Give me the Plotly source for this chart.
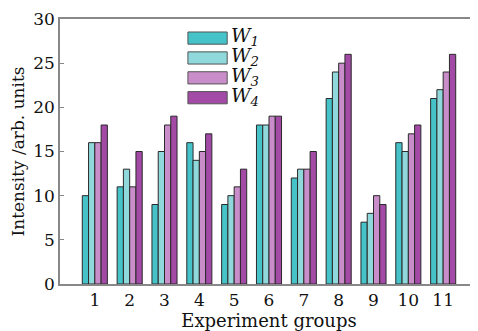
import plotly.graph_objects as go

groups = [1, 2, 3, 4, 5, 6, 7, 8, 9, 10, 11]
w1 = [10, 11, 9, 16, 9, 18, 12, 21, 7, 16, 21]
w2 = [16, 13, 15, 14, 10, 18, 13, 24, 8, 15, 22]
w3 = [16, 11, 18, 15, 11, 19, 13, 25, 10, 17, 24]
w4 = [18, 15, 19, 17, 13, 19, 15, 26, 9, 18, 26]
series_names = ["W<sub>1</sub>", "W<sub>2</sub>", "W<sub>3</sub>", "W<sub>4</sub>"]
colors = ["#45c3c8", "#8fd8db", "#c98dc9", "#a24aa6"]
y_ticks = [0, 5, 10, 15, 20, 25, 30]

FONT = "DejaVu Serif"
fig = go.Figure()
for name, vals, col in zip(series_names, [w1, w2, w3, w4], colors):
    fig.add_trace(go.Bar(x=groups, y=vals, name=name,
                         marker=dict(color=col, line=dict(color="#2a2a2a", width=1)),
                         showlegend=False))

# custom legend (wide swatches like the original)
leg_x0, leg_x1 = 0.306, 0.40
leg_top = 0.928
step = 0.075
shapes = []
annotations = []
for i, (name, col) in enumerate(zip(series_names, colors)):
    yc = leg_top - i * step
    shapes.append(dict(type="rect", xref="paper", yref="paper", x0=leg_x0, x1=leg_x1,
                       y0=yc - 0.023, y1=yc + 0.023, fillcolor=col,
                       line=dict(color="#555555", width=1)))
    annotations.append(dict(xref="paper", yref="paper", x=leg_x1 + 0.004, y=yc + 0.005,
                            xanchor="left", yanchor="middle",
                            text="<i>" + name + "</i>", showarrow=False,
                            font=dict(family=FONT, size=19, color="#111")))

fig.update_layout(
    width=470, height=323,
    margin=dict(l=52, r=0, t=11, b=47),
    plot_bgcolor="white", paper_bgcolor="white",
    barmode="group", bargap=0.28, bargroupgap=0,
    font=dict(family=FONT, size=16, color="#111"),
    shapes=shapes, annotations=annotations,
    xaxis=dict(range=[0, 12], tickvals=groups, ticktext=[str(g) for g in groups],
               showline=True, linecolor="#888888", linewidth=1.5, mirror=True,
               ticks="", showgrid=False, zeroline=False, automargin=False,
               title=dict(text="Experiment groups", font=dict(family=FONT, size=18), standoff=0),
               tickfont=dict(family=FONT, size=17)),
    yaxis=dict(range=[0, 30], tickvals=y_ticks,
               showline=True, linecolor="#888888", linewidth=1.5,
               ticks="inside", ticklen=4, tickcolor="#888888",
               showgrid=False, zeroline=False, automargin=False,
               title=dict(text="Intensity /arb. units", font=dict(family=FONT, size=17), standoff=4),
               tickfont=dict(family=FONT, size=17)),
)

fig.write_html("out.html")
